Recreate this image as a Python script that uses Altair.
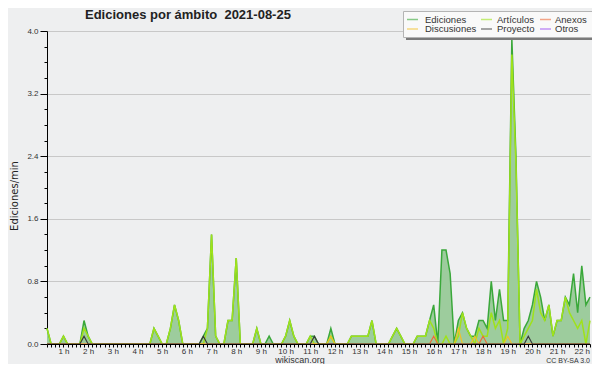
import altair as alt
import pandas as pd

# time of each sample, minutes after midnight (every 10 min, 0:20 -> 22:20)
minutes = list(range(20, 1341, 10))

ediciones = [
    0.2, 0, 0, 0, 0.1, 0, 0, 0, 0, 0.3, 0.1, 0,
    0, 0, 0, 0, 0, 0, 0, 0, 0, 0, 0, 0,
    0, 0, 0.2, 0.1, 0, 0, 0.2, 0.5, 0.3, 0, 0, 0,
    0, 0, 0.1, 0.2, 1.4, 0.1, 0, 0, 0.3, 0.3, 1.1, 0,
    0, 0, 0, 0.2, 0, 0, 0.1, 0, 0, 0, 0.1, 0.3,
    0.1, 0, 0, 0, 0.1, 0.1, 0, 0, 0, 0.2, 0, 0,
    0, 0, 0.1, 0.1, 0.1, 0.1, 0.1, 0.3, 0, 0, 0, 0,
    0.1, 0.2, 0.1, 0, 0, 0, 0.1, 0.1, 0.1, 0.3, 0.5, 0,
    1.2, 1.2, 0.9, 0, 0.3, 0.4, 0.2, 0.1, 0.1, 0.3, 0.3, 0.2,
    0.8, 0.3, 0.7, 0.3, 0.3, 3.9, 2.4, 0, 0.2, 0.3, 0.5, 0.8,
    0.6, 0.3, 0.5, 0.1, 0.3, 0.3, 0.6, 0.5, 0.9, 0.4, 1.0, 0.5,
    0.6,
]

articulos = [
    0.2, 0, 0, 0, 0.1, 0, 0, 0, 0, 0.2, 0.1, 0,
    0, 0, 0, 0, 0, 0, 0, 0, 0, 0, 0, 0,
    0, 0, 0.2, 0.1, 0, 0, 0.2, 0.5, 0.3, 0, 0, 0,
    0, 0, 0, 0.2, 1.4, 0.1, 0, 0, 0.3, 0.3, 1.1, 0,
    0, 0, 0, 0.2, 0, 0, 0, 0, 0, 0, 0.1, 0.3,
    0.1, 0, 0, 0, 0.1, 0, 0, 0, 0, 0.1, 0, 0,
    0, 0, 0.1, 0.1, 0.1, 0.1, 0.1, 0.3, 0, 0, 0, 0,
    0.1, 0.2, 0.1, 0, 0, 0, 0.1, 0.1, 0.1, 0.3, 0.2, 0,
    0, 0.1, 0, 0, 0.1, 0.4, 0.2, 0.1, 0, 0.2, 0.1, 0.1,
    0.4, 0.2, 0.3, 0, 0.2, 3.7, 2.3, 0, 0.1, 0.2, 0.3, 0.7,
    0.4, 0.3, 0.5, 0.1, 0.3, 0.3, 0.6, 0.4, 0.3, 0.2, 0.3, 0,
    0.3,
]

# sparse series: (sample index, edits/min); all other samples are 0
anexos_pts = [(94, 0.1), (106, 0.1)]
discusiones_pts = [(69, 0.1), (100, 0.2), (104, 0.1), (112, 0.1)]
proyecto_pts = [(9, 0.1), (38, 0.1), (65, 0.1), (117, 0.1)]
otros_pts = []

series_names = ["Ediciones", "Artículos", "Anexos", "Discusiones", "Proyecto", "Otros"]
series_colors = ["#3aa83a", "#9fe21a", "#ee6a3a", "#f0c028", "#3a3a3a", "#9a4cf0"]
y_ticks = [0.0, 0.2, 0.4, 0.6, 0.8, 1.0, 1.2, 1.4, 1.6, 1.8, 2.0,
           2.2, 2.4, 2.6, 2.8, 3.0, 3.2, 3.4, 3.6, 3.8, 4.0]

title_txt = "Ediciones por ámbito\u00a0 2021-08-25"
y_title = "Ediciones/min"
site_txt = "wikiscan.org"
lic_txt = "CC BY-SA 3.0"


def sparse(points):
    vals = [0.0] * len(minutes)
    for i, v in points:
        vals[i] = v
    return vals


def frame(name, vals):
    return pd.DataFrame({"t": minutes, "v": vals, "serie": name})


df_ed = frame("Ediciones", ediciones)
df_art = frame("Artículos", articulos)
df_anx = frame("Anexos", sparse(anexos_pts))
df_dis = frame("Discusiones", sparse(discusiones_pts))
df_pro = frame("Proyecto", sparse(proyecto_pts))
df_otr = frame("Otros", sparse(otros_pts))

FONT = "Liberation Sans"
major = "abs(datum.value/0.8 - round(datum.value/0.8)) < 0.01"

x_enc = alt.X(
    "t:Q",
    scale=alt.Scale(domain=[20, 1340], nice=False, zero=False),
    axis=alt.Axis(
        values=minutes,
        labelExpr="datum.value % 60 == 0 ? floor(datum.value/60) + ' h' : ''",
        title=None, tickSize=3, tickColor="#000", domainColor="#000",
        labelFont=FONT, labelFontSize=8, labelColor="#333", labelPadding=0,
        labelOverlap=False, labelFlush=False, labelBound=False, grid=False, zindex=1,
    ),
)
y_enc = alt.Y(
    "v:Q",
    scale=alt.Scale(domain=[0, 4], nice=False),
    axis=alt.Axis(
        values=y_ticks,
        labelExpr=f"{major} ? format(datum.value, '.1f') : ''",
        title=None,
        tickSize={"condition": {"test": major, "value": 7}, "value": 3},
        gridOpacity={"condition": {"test": major, "value": 1}, "value": 0},
        gridColor="#c8c8c8", grid=True,
        tickColor="#000", domainColor="#000",
        labelFont=FONT, labelFontSize=8, labelColor="#333", labelPadding=2,
        labelOverlap=False,
    ),
)
color_enc = alt.Color(
    "serie:N",
    scale=alt.Scale(domain=series_names, range=series_colors),
    legend=None,
)

area = alt.Chart(df_ed).mark_area(color="#9dcc9d", opacity=1).encode(x=x_enc, y=y_enc)


def line(df, width):
    return alt.Chart(df).mark_line(strokeWidth=width).encode(x=x_enc, y=y_enc, color=color_enc)


one = pd.DataFrame({"a": [0]})

# ---- hand-built legend (3 columns x 2 rows), pixel layout in the plot frame
leg_sym_x = [360, 434, 493]
leg_txt_x = [378, 450, 508]
leg_row_y = [-11.5, -2]
legend_layers = [
    alt.Chart(one).mark_rect(color="#7a7a7a").encode(
        x=alt.value(359), x2=alt.value(549), y=alt.value(-17), y2=alt.value(9)),
    alt.Chart(one).mark_rect(fill="#f9f9f9", stroke="#b4b4b4", strokeWidth=1).encode(
        x=alt.value(356.5), x2=alt.value(546.5), y=alt.value(-19.5), y2=alt.value(6.5)),
]
for k, (name, col) in enumerate(zip(series_names, series_colors)):
    c, r = k % 3, k // 3
    legend_layers.append(
        alt.Chart(one).mark_rule(color=col, strokeWidth=1.5, opacity=0.6).encode(
            x=alt.value(leg_sym_x[c]), x2=alt.value(leg_sym_x[c] + 11), y=alt.value(leg_row_y[r]))
    )
    legend_layers.append(
        alt.Chart(pd.DataFrame({"s": [name]})).mark_text(
            align="left", baseline="middle", font=FONT, fontSize=9.5, color="#333"
        ).encode(x=alt.value(leg_txt_x[c]), y=alt.value(leg_row_y[r]), text="s:N")
    )

title = alt.Chart(pd.DataFrame({"s": [title_txt]})).mark_text(
    align="left", baseline="alphabetic", font=FONT, fontSize=13, fontWeight="bold", color="#222"
).encode(x=alt.value(38), y=alt.value(-12), text="s:N")

ytitle = alt.Chart(pd.DataFrame({"s": [y_title]})).mark_text(
    align="center", baseline="middle", angle=270, font="DejaVu Sans", fontSize=10, color="#222"
).encode(x=alt.value(-32), y=alt.value(165), text="s:N")

site = alt.Chart(pd.DataFrame({"s": [site_txt]})).mark_text(
    align="center", baseline="middle", font=FONT, fontSize=9, color="#333"
).encode(x=alt.value(253), y=alt.value(329), text="s:N")

lic = alt.Chart(pd.DataFrame({"s": [lic_txt]})).mark_text(
    align="right", baseline="middle", font=FONT, fontSize=7, color="#333"
).encode(x=alt.value(543), y=alt.value(330), text="s:N")

chart = alt.layer(
    area,
    line(df_ed, 1.5),
    line(df_otr, 1),
    line(df_art, 1.5),
    line(df_anx, 1.2),
    line(df_dis, 1.2),
    line(df_pro, 1.2),
    *legend_layers,
    title, ytitle, site, lic,
).properties(
    width=543, height=313,
    autosize="none",
    padding={"left": 39, "top": 23, "right": 2, "bottom": 20},
    background="#eeeff0",
).configure_view(stroke=None)

chart.save("out.html", embed_options={"renderer": "svg", "actions": False})
